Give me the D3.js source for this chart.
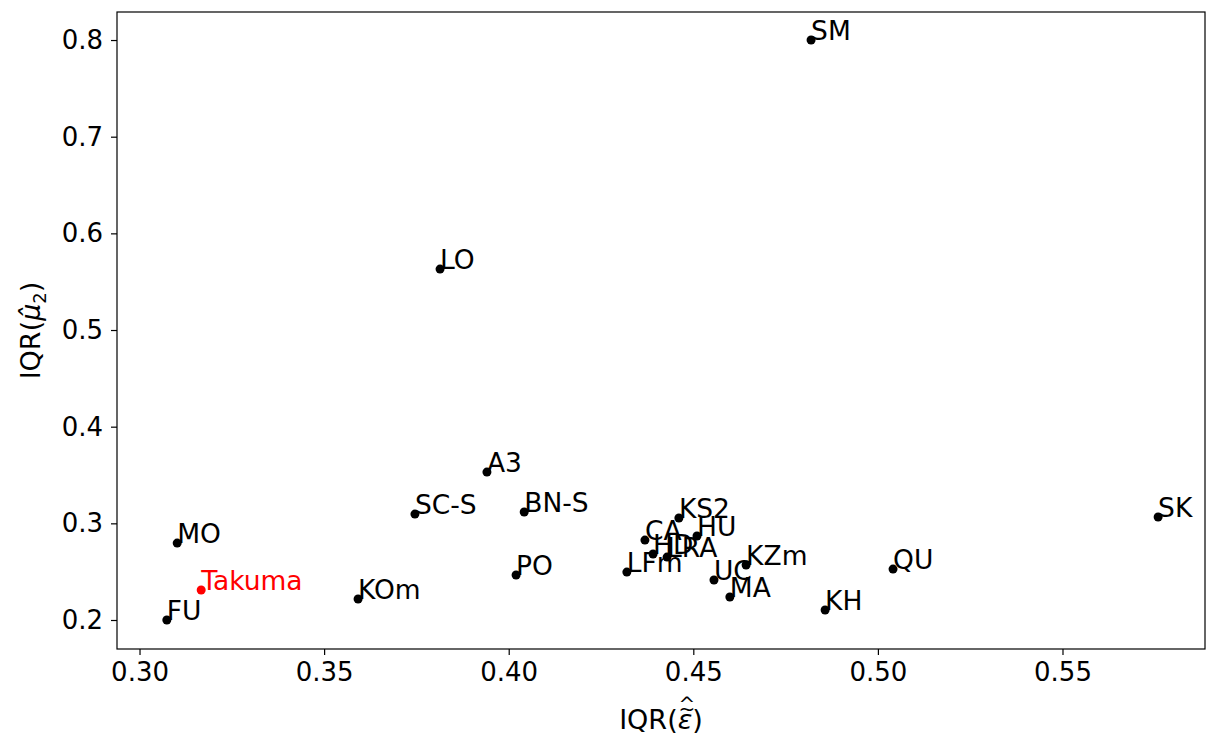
<!DOCTYPE html>
<html>
<head>
<meta charset="utf-8">
<script src="https://cdn.jsdelivr.net/npm/d3@7"></script>
<style>
  body { margin: 0; background: #fff; }
  text { font-family: "DejaVu Sans", sans-serif; }
</style>
</head>
<body>
<div id="canvas"></div>
<script>
// data
const names = ["SM", "LO", "A3", "SC-S", "BN-S", "MO", "Takuma", "FU", "KOm", "PO", "LFm",
  "KS2", "HU", "CA", "HD", "LRA", "UC", "KZm", "MA", "KH", "QU", "SK"];
const xVals = [0.4819, 0.3814, 0.3941, 0.3746, 0.4042, 0.3102, 0.3167, 0.3074, 0.3592, 0.4020, 0.4320,
  0.4461, 0.4510, 0.4369, 0.4391, 0.4429, 0.4556, 0.4643, 0.4599, 0.4857, 0.5041, 0.5759];
const yVals = [0.800, 0.563, 0.353, 0.3096, 0.3117, 0.2796, 0.231, 0.200, 0.2217, 0.2465, 0.2496,
  0.3055, 0.2869, 0.2827, 0.2683, 0.2651, 0.2414, 0.2569, 0.2238, 0.2103, 0.2527, 0.3065];
const xTicks = [0.30, 0.35, 0.40, 0.45, 0.50, 0.55];
const yTicks = [0.2, 0.3, 0.4, 0.5, 0.6, 0.7, 0.8];
const highlight = "Takuma";

const W = 1207, H = 740;
const margin = { top: 12, right: 2, bottom: 91, left: 117 };
const width = W - margin.left - margin.right;
const height = H - margin.top - margin.bottom;

const svg = d3.select("#canvas").append("svg")
  .attr("width", W).attr("height", H);

const g = svg.append("g")
  .attr("transform", `translate(${margin.left},${margin.top})`);

const x = d3.scaleLinear().domain([0.2939, 0.5886]).range([0, width]);
const y = d3.scaleLinear().domain([0.170, 0.829]).range([height, 0]);

const xAxis = g.append("g")
  .attr("transform", `translate(0,${height})`)
  .call(d3.axisBottom(x).tickValues(xTicks).tickFormat(d3.format(".2f")).tickSize(6).tickPadding(8));
const yAxis = g.append("g")
  .call(d3.axisLeft(y).tickValues(yTicks).tickFormat(d3.format(".1f")).tickSize(6).tickPadding(8));

[xAxis, yAxis].forEach(a => {
  a.select(".domain").remove();
  a.selectAll("line").attr("stroke", "#000").attr("stroke-width", 1.2);
  a.selectAll("text").style("font-size", "26px").attr("fill", "#000");
});

// frame
g.append("rect")
  .attr("width", width).attr("height", height)
  .attr("fill", "none").attr("stroke", "#000").attr("stroke-width", 1.2);

const pts = names.map((n, i) => ({ name: n, x: xVals[i], y: yVals[i] }));

g.selectAll(".dot")
  .data(pts)
  .enter().append("circle")
  .attr("class", "dot")
  .attr("cx", d => x(d.x))
  .attr("cy", d => y(d.y))
  .attr("r", 4.5)
  .attr("fill", d => d.name === highlight ? "#ff0000" : "#000");

g.selectAll(".lbl")
  .data(pts)
  .enter().append("text")
  .attr("class", "lbl")
  .attr("x", d => x(d.x))
  .attr("y", d => y(d.y))
  .text(d => d.name)
  .style("font-size", "26.5px")
  .attr("fill", d => d.name === highlight ? "#ff0000" : "#000");

// axis labels
const xl = svg.append("text")
  .attr("x", margin.left + width / 2)
  .attr("y", 729)
  .attr("text-anchor", "middle")
  .style("font-size", "27px");
xl.append("tspan").text("IQR(");
xl.append("tspan").style("font-style", "italic").text("\u03B5");
xl.append("tspan").text(")");

// tilde and hat stacked over epsilon
const node = xl.node();
const p0 = node.getStartPositionOfChar(4);
const p1 = node.getEndPositionOfChar(4);
const cx = (p0.x + p1.x) / 2 + 2;
svg.append("text").attr("x", cx).attr("y", 716).attr("text-anchor", "middle")
  .style("font-size", "20px").text("~");
svg.append("text").attr("x", cx).attr("y", 711).attr("text-anchor", "middle")
  .style("font-size", "20px").text("^");

const yl = svg.append("text")
  .attr("transform", `translate(40,${margin.top + height / 2}) rotate(-90)`)
  .attr("text-anchor", "middle")
  .style("font-size", "27px");
yl.append("tspan").text("IQR(");
yl.append("tspan").style("font-style", "italic").text("\u03BC\u0302");
yl.append("tspan").attr("dy", 6).style("font-size", "18px").text("2");
yl.append("tspan").attr("dy", -6).text(")");
</script>
</body>
</html>
